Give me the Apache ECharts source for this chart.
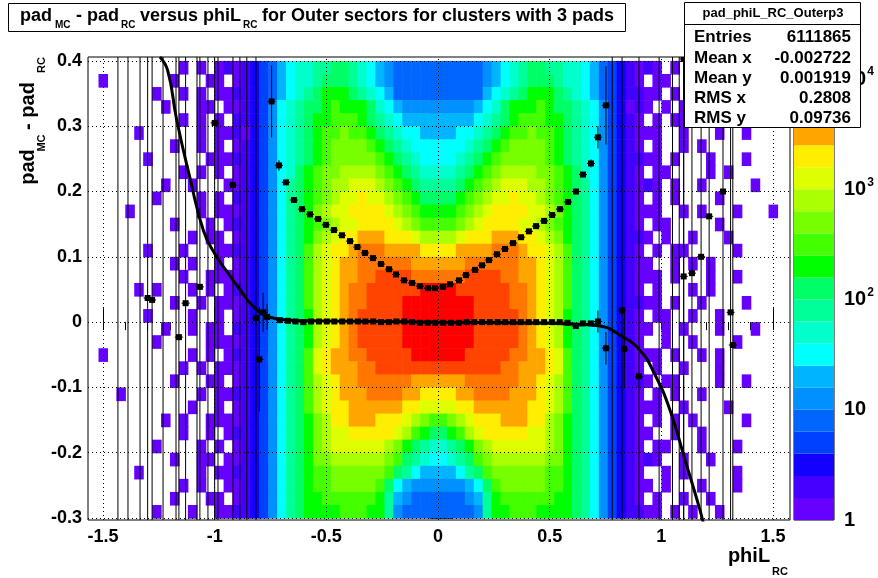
<!DOCTYPE html>
<html>
<head>
<meta charset="utf-8">
<script src="https://cdn.jsdelivr.net/npm/echarts@6/dist/echarts.min.js"></script>
<style>html,body{margin:0;padding:0;background:#fff}#chart{width:878px;height:578px}</style>
</head>
<body>
<div id="chart"></div>
<script>
// colour palette, bottom (1 entry) to top
var palette = ['#6600ff','#4400ff','#1400ff','#0040ff','#0066ff','#0090ff','#00b4ff','#00ffff','#00ffcc','#00ff99',
  '#00ff66','#00ff00','#44ff00','#77ff00','#aaff00','#ddff00','#ffee00','#ffa500','#ff7700','#ff4400','#ff0000'];

// heat levels read per row (top row y=0.39 down to y=-0.29), '.'=empty, 1..9,a..l = level 1..21
// core: half profile |x| = 0.02 .. 0.82 (mirrored), outer: x -1.58..-0.86 and 0.86..1.58
var coreHalf = [
  '555556789abbaa9987543','555556789abbba9987543','55555789abcccba987543','6666789bcccdcbba98643',
  '777789abcdddccba98643','77889abcddeddcba98643','8889abcdeeeedcba98643','889abcdeeeeedcba98643',
  '99abcdeffffeedcb98643','aabcdefgggffedcba8643','bbcdefgghggfedcba8643','ccdefghhhhggfecba8643',
  'ddefghhhhggfedcba8643','ffghhhiiihhgfecba8643','hhiiiijjjihhgfdba8643','iiijjjjjjiihgfdba8643',
  'jjjkkkkjjiihgfdba8643','llkkkkkkjjihgfdba8643','llllkkkkjjihgfdba8643','llllkkkkkjihgfcba8643',
  'llllkkkkkjihgfcba8643','llllkkkkkjihgfcba8643','lllkkkkkjjiihgdba8643','kkkkkkkjjiiihgdba8643',
  'iiijjjjjjiihgfdba8643','hhiijjjjiiihgfdba8643','gghhiiiiiihhgfdba8643','defghhhiiihhfecba8643',
  'bcdfghhhhhggfecba8643','9abcefggggggfecba8643','89abdeffffffeecba8643','778abdeeeeeeddcba8643',
  '66678bdeeeeeddcba8643','55567acddddddccba8643','55556accdddccccba8643'
];
var outerLeft = [
  '...........1.1.1212','..1.......1...11.12','........1..1.1.1122','.........1...11.112','...........1.1.1.22',
  '......1......1.1121','..........1..1.1.12','.......1......11122','...........1.1.1.12','.........1..1...112',
  '........1....1.1.22','.....1.......1.1112','..........1...1.122','............1.11.12','.......1...1...1122',
  '..........1.1..1.12','...........1..11112','......1.1...1.1.122','..........1..1.1112','.......1....1..1.12',
  '.........1..1.11.22','........1.....11112','..1.........1.1.122','...........1.1.1112','..........1...11.12',
  '....1........1.1122','............1..1.12','.........1.1..11112','...........1..1.122','........1....1.1.12',
  '..........1..11.112','......1......1.1122','...........1.1..112','..........1...11.12','........1...1..1122'
];
var outerRight = [
  '2121.1.1..1........','21.11..1...1.......','2211.1..1..........','121.1.1...1.1......','21.1.11......1.....',
  '2111..1...1..1.....','21.1..1.1..........','2211.1...1...1.....','21.11....1.1.......','2121.1..1.....1....',
  '21.1.1....1........','2111..1.1...1...1..','21.11.....1........','221.1..1...1.......','21.1.11.....1......',
  '211..1.1.1.........','2111.1...1..1......','21.1...1.1.........','2211.1..1....1.....','21.11..1..1........',
  '211.1.1...1...1....','21..1..1....1......','2111.1..1.1........','21.1..1...1........','221.11....1..1.....',
  '21.1.1..1..........','2111..1....1.......','21.1.1.1.....1.....','211..1..1..........','21.11...1...1......',
  '2121..1..1.........','21..1.1.....1......','211.1...1...1......','21.1..1..1.........','2211.1.1..1........'
];

// profile points [x, y, error]
var profileFlat = [
  [-0.707,0.003,0.003],[-0.672,0.002,0.002],[-0.638,0.001,0.002],[-0.603,0.000,0.001],[-0.568,0.001,0.001],
  [-0.533,0.001,0.001],[-0.498,0.001,0.001],[-0.464,0.001,0.001],[-0.429,0.001,0.001],[-0.394,0.001,0.001],
  [-0.359,0.001,0.001],[-0.325,0.001,0.001],[-0.290,0.001,0.001],[-0.255,0.0,0.001],[-0.220,0.0,0.001],
  [-0.186,0.001,0.001],[-0.151,0.001,0.001],[-0.116,0.0,0.001],[-0.081,-0.001,0.001],[-0.046,-0.001,0.001],
  [-0.012,-0.001,0.001],[0.023,-0.001,0.001],[0.058,-0.001,0.001],[0.093,-0.001,0.001],[0.128,0.0,0.001],
  [0.162,0.0,0.001],[0.197,0.0,0.001],[0.232,0.0,0.001],[0.267,0.0,0.001],[0.301,0.0,0.001],
  [0.336,0.0,0.001],[0.371,0.0,0.001],[0.406,0.0,0.001],[0.440,0.0,0.001],[0.475,0.0,0.001],
  [0.510,0.0,0.001],[0.545,0.0,0.001],[0.580,-0.001,0.001],[0.617,-0.006,0.002],[0.649,-0.002,0.002],
  [0.684,-0.002,0.003],[0.716,0.001,0.017]
];
var profileU = [
  [-0.745,0.338,0.055],[-0.712,0.240,0.008],[-0.681,0.214,0.004],[-0.645,0.187,0.002],[-0.609,0.173,0.002],
  [-0.573,0.165,0.001],[-0.537,0.158,0.001],[-0.502,0.149,0.001],[-0.466,0.141,0.001],[-0.430,0.133,0.001],
  [-0.394,0.124,0.001],[-0.361,0.115,0.001],[-0.327,0.106,0.001],[-0.291,0.098,0.001],[-0.255,0.089,0.001],
  [-0.219,0.081,0.001],[-0.188,0.073,0.001],[-0.152,0.064,0.001],[-0.116,0.060,0.001],[-0.081,0.055,0.001],
  [-0.045,0.052,0.001],[-0.013,0.052,0.001],[0.022,0.054,0.001],[0.054,0.058,0.001],[0.094,0.064,0.001],
  [0.125,0.072,0.001],[0.166,0.080,0.001],[0.197,0.087,0.001],[0.228,0.095,0.001],[0.264,0.104,0.001],
  [0.300,0.112,0.001],[0.336,0.121,0.001],[0.372,0.130,0.001],[0.407,0.139,0.001],[0.439,0.147,0.001],
  [0.475,0.155,0.001],[0.511,0.164,0.001],[0.546,0.173,0.002],[0.582,0.184,0.002],[0.618,0.200,0.002],
  [0.649,0.226,0.004],[0.685,0.243,0.006],[0.716,0.283,0.017],[0.752,0.332,0.06]
];
var profileOuter = [
  [-1.433,0.6,1],[-1.388,-0.5,1],[-1.334,0.6,1],[-1.30,0.037,1],[-1.28,0.034,1],[-1.231,-0.5,1],
  [-1.173,0.6,1],[-1.16,-0.023,1],[-1.13,0.029,1],[-1.079,-0.5,1],[-1.066,0.054,1],[-1.03,0.6,1],
  [-1.0,0.305,1],[-0.985,-0.5,1],[-0.918,0.210,1],[-0.887,0.6,1],[-0.856,-0.5,1],[-0.815,0.006,1],
  [-0.80,-0.057,0.08],[-0.783,0.015,0.03],[-0.765,0.008,0.02],
  [0.752,-0.04,0.025],[0.78,0.6,1],[0.824,0.018,1],[0.834,-0.041,0.06],[0.90,-0.083,1],[0.99,-0.5,1],
  [1.05,0.6,1],[1.08,-0.5,1],[1.10,0.070,1],[1.10,0.403,1],[1.137,0.075,1],[1.178,0.100,1],
  [1.214,0.162,1],[1.276,0.200,1],[1.31,0.015,1],[1.32,-0.035,1]
];
// fit curve
var fitCurve = [
  [-1.245,0.406],[-1.21,0.385],[-1.17,0.31],[-1.11,0.22],[-1.05,0.14],[-1.0,0.105],[-0.94,0.075],
  [-0.887,0.05],[-0.83,0.025],[-0.77,0.01],[-0.7,0.004],[-0.6,0.002],[-0.3,0.001],[0,0.0],
  [0.3,-0.001],[0.6,-0.003],[0.725,-0.006],[0.815,-0.02],[0.904,-0.043],[0.972,-0.081],
  [1.039,-0.135],[1.106,-0.211],[1.173,-0.288],[1.196,-0.32]
];

var xTicks = [-1.5, -1, -0.5, 0, 0.5, 1, 1.5];
var yTicks = [-0.3, -0.2, -0.1, 0, 0.1, 0.2, 0.3, 0.4];
var zTicks = [0, 1, 2, 3, 4];
var zLabels = ['1', '10', '10{s|2}', '10{s|3}', '10{s|4}'];

var xMinor = [], yMinor = [], zMinor = [];
for (var i = -15; i <= 15; i++) xMinor.push(i / 10);
for (var j = -15; j <= 20; j++) yMinor.push(j / 50);
for (var n = 0; n < 4; n++) for (var k = 2; k <= 9; k++) zMinor.push(n + Math.log10(k));

function lv(ch) { return ch === '.' ? 0 : parseInt(ch, 36); }
var cells = [];
for (var r = 0; r < coreHalf.length; r++) {
  var y = 0.39 - 0.02 * r;
  for (var c = 0; c < 80; c++) {
    var ch;
    if (c <= 18) ch = outerLeft[r][c];
    else if (c <= 39) ch = coreHalf[r][39 - c];
    else if (c <= 60) ch = coreHalf[r][c - 40];
    else ch = outerRight[r][c - 61];
    var l = lv(ch || '.');
    if (l > 0) cells.push([-1.58 + 0.04 * c, y, l]);
  }
}

var FONT = 'Liberation Sans';
var chart = echarts.init(document.getElementById('chart'));

function renderCell(params, api) {
  var x = api.value(0), y = api.value(1), l = api.value(2);
  var a = api.coord([x - 0.02, y + 0.01]), b = api.coord([x + 0.02, y - 0.01]);
  return {type: 'rect', shape: {x: a[0], y: a[1], width: b[0] - a[0] + 0.6, height: b[1] - a[1] + 0.6},
    style: {fill: palette[l - 1]}};
}
function renderPoint(params, api) {
  var x = api.value(0), y = api.value(1), e = api.value(2);
  var p = api.coord([x, y]);
  var t = api.coord([x, y + e]), bt = api.coord([x, y - e]);
  var lx = api.coord([x - 0.018, y]), rx = api.coord([x + 0.018, y]);
  var st = {stroke: '#000', lineWidth: 1};
  return {type: 'group', children: [
    {type: 'line', shape: {x1: p[0], y1: t[1], x2: p[0], y2: bt[1]}, style: st},
    {type: 'line', shape: {x1: lx[0], y1: p[1], x2: rx[0], y2: p[1]}, style: st},
    {type: 'rect', shape: {x: p[0] - 3, y: p[1] - 3, width: 6, height: 6}, style: {fill: '#000'}}
  ]};
}

var gridLines = xTicks.map(function (v) { return {xAxis: v}; })
  .concat(yTicks.map(function (v) { return {yAxis: v}; }));

var series = [
  {type: 'custom', xAxisIndex: 0, yAxisIndex: 0, renderItem: renderCell, data: cells,
    encode: {x: 0, y: 1}, clip: true, silent: true, z: 1},
  {type: 'line', xAxisIndex: 0, yAxisIndex: 0, data: fitCurve, smooth: true, showSymbol: false,
    lineStyle: {color: '#000', width: 3}, silent: true, z: 4,
    markLine: {silent: true, symbol: 'none', label: {show: false},
      lineStyle: {color: '#000', width: 1, type: [1, 3]}, data: gridLines, z: 2}},
  {type: 'custom', xAxisIndex: 0, yAxisIndex: 0, renderItem: renderPoint,
    data: profileFlat.concat(profileU, profileOuter), encode: {x: 0, y: 1}, clip: true, silent: true, z: 5}
];
palette.forEach(function (col) {
  series.push({type: 'bar', xAxisIndex: 2, yAxisIndex: 2, stack: 'cb', data: [4.2 / palette.length],
    itemStyle: {color: col}, barWidth: '100%', silent: true});
});

var tickLab = {color: '#000', fontFamily: FONT, fontWeight: 'bold', fontSize: 18};
function txt(x, y, s, size, rot, align) {
  return {type: 'text', x: x, y: y, rotation: rot || 0, z: 50,
    style: {text: s, font: 'bold ' + size + 'px "' + FONT + '"', fill: '#000',
      align: align || 'left', verticalAlign: 'middle'}};
}

chart.setOption({
  animation: false,
  grid: [
    {left: 88, right: 88, top: 57, bottom: 58, show: true, borderColor: '#000', borderWidth: 1, backgroundColor: '#fff'},
    {left: 794, width: 40, top: 57, bottom: 58, show: true, borderColor: '#000', borderWidth: 1}
  ],
  xAxis: [
    {type: 'value', gridIndex: 0, min: -1.567, max: 1.576, axisLine: {show: false}, splitLine: {show: false},
      axisTick: {inside: true, length: 14, customValues: xTicks, lineStyle: {color: '#000'}},
      axisLabel: Object.assign({customValues: xTicks, margin: 8, formatter: function (v) { return String(v); }}, tickLab)},
    {type: 'value', gridIndex: 0, min: -1.567, max: 1.576, axisLine: {show: false}, splitLine: {show: false},
      axisTick: {inside: true, length: 8, customValues: xMinor, lineStyle: {color: '#000'}}, axisLabel: {show: false}},
    {type: 'category', gridIndex: 1, data: ['z'], show: false}
  ],
  yAxis: [
    {type: 'value', gridIndex: 0, min: -0.303, max: 0.406, axisLine: {show: false}, splitLine: {show: false},
      axisTick: {inside: true, length: 15, customValues: yTicks, lineStyle: {color: '#000'}},
      axisLabel: Object.assign({customValues: yTicks, margin: 6,
        formatter: function (v) { return String(Math.round(v * 10) / 10); }}, tickLab)},
    {type: 'value', gridIndex: 0, min: -0.303, max: 0.406, axisLine: {show: false}, splitLine: {show: false},
      axisTick: {inside: true, length: 8, customValues: yMinor, lineStyle: {color: '#000'}}, axisLabel: {show: false}},
    {type: 'value', gridIndex: 1, position: 'right', min: 0, max: 4.2, axisLine: {show: false}, splitLine: {show: false},
      axisTick: {inside: true, length: 11, customValues: zTicks, lineStyle: {color: '#000'}},
      axisLabel: {customValues: zTicks, margin: 10, color: '#000', fontFamily: FONT, fontWeight: 'bold', fontSize: 20,
        formatter: function (v) { return zLabels[Math.round(v)]; },
        rich: {s: {fontSize: 12, fontWeight: 'bold', fontFamily: FONT, color: '#000', padding: [0, 0, 14, 1]}}}},
    {type: 'value', gridIndex: 1, position: 'right', min: 0, max: 4.2, axisLine: {show: false}, splitLine: {show: false},
      axisTick: {inside: true, length: 6, customValues: zMinor, lineStyle: {color: '#000'}}, axisLabel: {show: false}}
  ],
  series: series,
  graphic: [
    {type: 'rect', z: 40, shape: {x: 8.5, y: 3.5, width: 617, height: 28}, style: {fill: '#fff', stroke: '#000', lineWidth: 1}},
    txt(20, 16, 'pad', 18), txt(55, 25, 'MC', 10), txt(76, 16, '- pad', 18), txt(121, 25, 'RC', 10),
    txt(140, 16, 'versus phiL', 18), txt(243, 25, 'RC', 10), txt(262, 16, 'for Outer sectors for clusters with 3 pads', 18),
    txt(28, 167, 'pad', 20, Math.PI / 2, 'center'), txt(42, 143, 'MC', 11, Math.PI / 2, 'center'),
    txt(28, 106, '- pad', 20, Math.PI / 2, 'center'), txt(42, 65, 'RC', 11, Math.PI / 2, 'center'),
    txt(749, 556, 'phiL', 20, 0, 'center'), txt(780, 572, 'RC', 11, 0, 'center'),
    {type: 'rect', z: 40, shape: {x: 684.5, y: 2.5, width: 176, height: 125}, style: {fill: '#fff', stroke: '#000', lineWidth: 1}},
    {type: 'line', z: 41, shape: {x1: 685, y1: 24.5, x2: 860, y2: 24.5}, style: {stroke: '#000', lineWidth: 1}},
    txt(773, 13, 'pad_phiL_RC_Outerp3', 13, 0, 'center'),
    txt(694, 37, 'Entries', 17), txt(851, 37, '6111865', 17, 0, 'right'),
    txt(694, 58, 'Mean x', 17), txt(851, 58, '-0.002722', 17, 0, 'right'),
    txt(694, 78, 'Mean y', 17), txt(851, 78, '0.001919', 17, 0, 'right'),
    txt(694, 98, 'RMS x', 17), txt(851, 98, '0.2808', 17, 0, 'right'),
    txt(694, 118, 'RMS y', 17), txt(851, 118, '0.09736', 17, 0, 'right')
  ]
});
</script>
</body>
</html>
